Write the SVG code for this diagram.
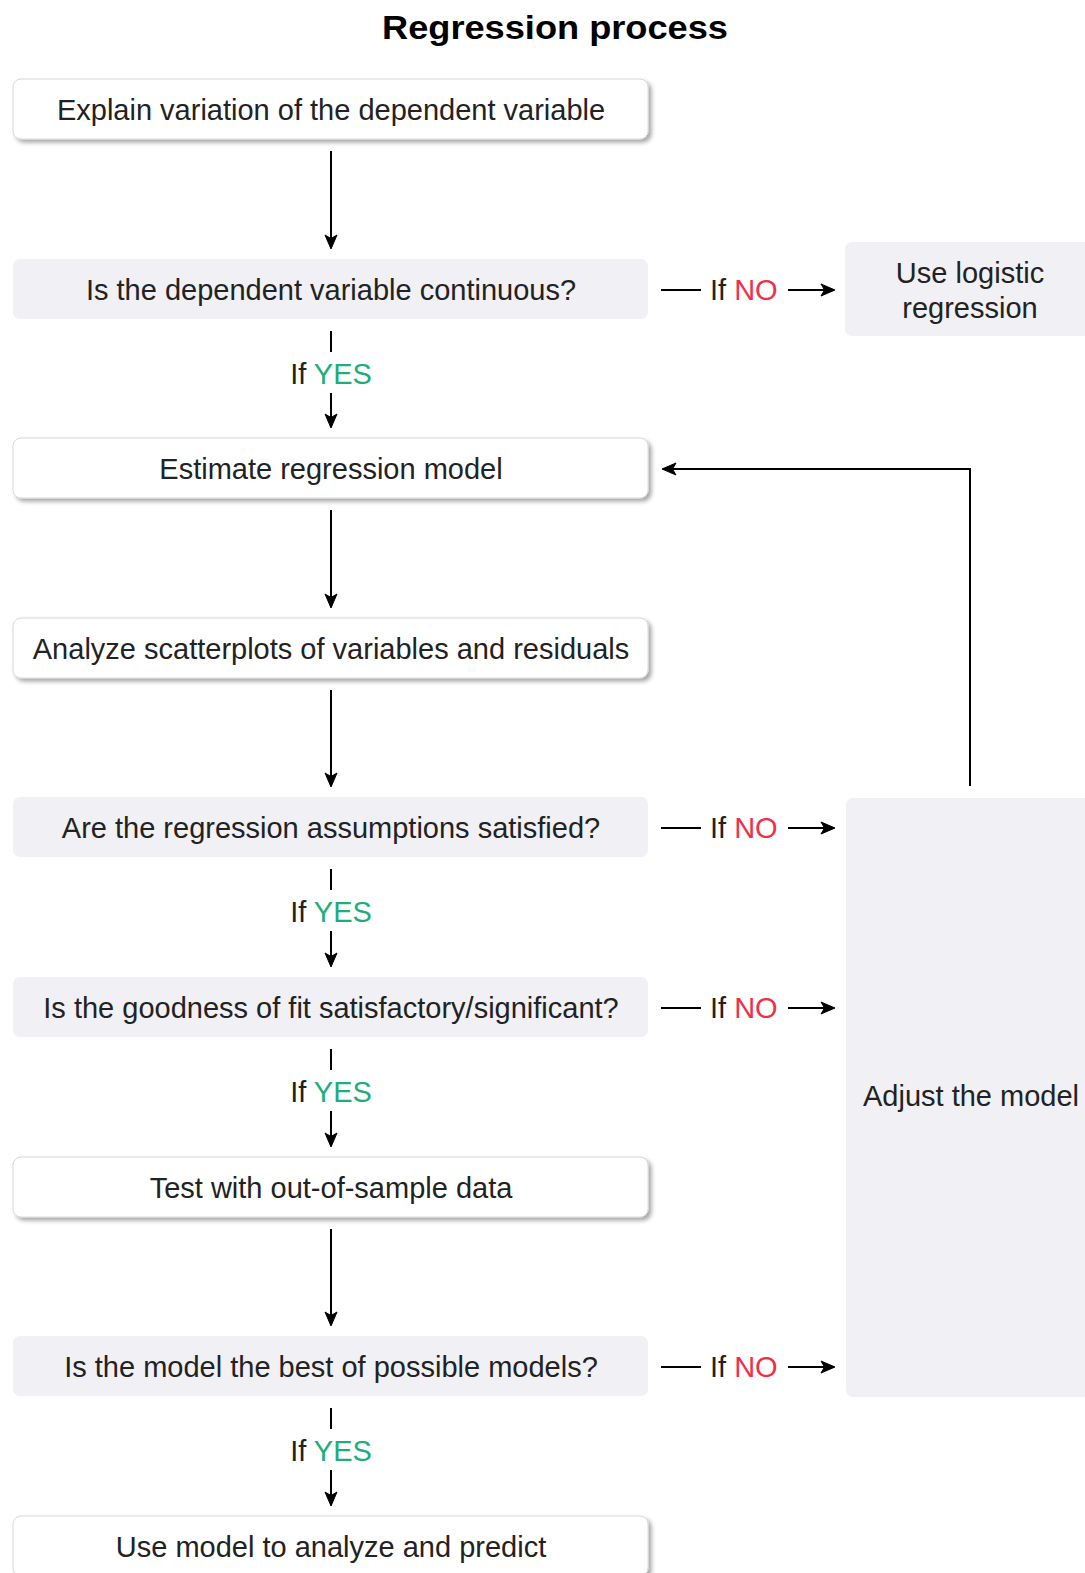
<svg xmlns="http://www.w3.org/2000/svg" width="1085" height="1573" viewBox="0 0 1085 1573">
<defs>
<filter id="sh" x="-5%" y="-30%" width="115%" height="180%">
<feDropShadow dx="3" dy="3" stdDeviation="2.2" flood-color="#000" flood-opacity="0.35"/>
</filter>
<marker id="ah" viewBox="0 0 14 12" refX="13" refY="6" markerWidth="14" markerHeight="12" markerUnits="userSpaceOnUse" orient="auto" overflow="visible">
<path d="M0,0 L14,6 L0,12 L3.5,6 z" fill="#000" stroke="#000" stroke-width="1" stroke-linejoin="miter"/>
</marker>
<style>
text{font-family:"Liberation Sans",Arial,sans-serif;font-size:29px;fill:#222;text-anchor:middle}
.title{font-weight:bold;font-size:34px;fill:#000}
.w{fill:#fff;stroke:#d8d8d8;stroke-width:1;filter:url(#sh)}
.g{fill:#f0f0f5}
.c{stroke:#000;stroke-width:2;fill:none}
.a{stroke:#000;stroke-width:2;fill:none;marker-end:url(#ah)}
.yes{fill:#21ad7a}
.no{fill:#f0304a}
.lbl{text-anchor:start}
</style>
</defs>
<rect width="1085" height="1573" fill="#fff"/>
<text class="title" x="555" y="39" textLength="346" lengthAdjust="spacingAndGlyphs">Regression process</text>

<g id="n1"><rect class="w" x="13" y="79" width="635" height="60" rx="8"/><text x="331" y="120">Explain variation of the dependent variable</text></g>
<g id="n2"><rect class="g" x="13" y="259" width="635" height="60" rx="7"/><text x="331" y="300">Is the dependent variable continuous?</text></g>
<g id="n3"><rect class="w" x="13" y="438" width="635" height="60" rx="8"/><text x="331" y="479">Estimate regression model</text></g>
<g id="n4"><rect class="w" x="13" y="618" width="635" height="60" rx="8"/><text x="331" y="659">Analyze scatterplots of variables and residuals</text></g>
<g id="n5"><rect class="g" x="13" y="797" width="635" height="60" rx="7"/><text x="331" y="838">Are the regression assumptions satisfied?</text></g>
<g id="n6"><rect class="g" x="13" y="977" width="635" height="60" rx="7"/><text x="331" y="1018">Is the goodness of fit satisfactory/significant?</text></g>
<g id="n7"><rect class="w" x="13" y="1157" width="635" height="60" rx="8"/><text x="331" y="1198">Test with out-of-sample data</text></g>
<g id="n8"><rect class="g" x="13" y="1336" width="635" height="60" rx="7"/><text x="331" y="1377">Is the model the best of possible models?</text></g>
<g id="n9"><rect class="w" x="13" y="1516" width="635" height="60" rx="8"/><text x="331" y="1557">Use model to analyze and predict</text></g>
<g id="n10"><rect class="g" x="845" y="242" width="260" height="94" rx="7"/><text x="970" y="283">Use logistic</text><text x="970" y="318">regression</text></g>
<g id="n11"><rect class="g" x="846" y="798" width="260" height="599" rx="7"/><text x="971" y="1106">Adjust the model</text></g>

<g id="connectors">
<line class="a" x1="331" y1="151" x2="331" y2="248"/>
<line class="a" x1="331" y1="510" x2="331" y2="607"/>
<line class="a" x1="331" y1="690" x2="331" y2="786"/>
<line class="a" x1="331" y1="1229" x2="331" y2="1325"/>

<line class="c" x1="331" y1="331" x2="331" y2="352"/>
<text x="331" y="384">If <tspan class="yes">YES</tspan></text>
<line class="a" x1="331" y1="393" x2="331" y2="427"/>

<line class="c" x1="331" y1="869" x2="331" y2="890"/>
<text x="331" y="922">If <tspan class="yes">YES</tspan></text>
<line class="a" x1="331" y1="931" x2="331" y2="966"/>

<line class="c" x1="331" y1="1049" x2="331" y2="1070"/>
<text x="331" y="1102">If <tspan class="yes">YES</tspan></text>
<line class="a" x1="331" y1="1111" x2="331" y2="1146"/>

<line class="c" x1="331" y1="1408" x2="331" y2="1429"/>
<text x="331" y="1461">If <tspan class="yes">YES</tspan></text>
<line class="a" x1="331" y1="1470" x2="331" y2="1505"/>

<line class="c" x1="661" y1="290" x2="701" y2="290"/>
<text class="lbl" x="710" y="300">If <tspan class="no">NO</tspan></text>
<line class="a" x1="788" y1="290" x2="834" y2="290"/>

<line class="c" x1="661" y1="828" x2="701" y2="828"/>
<text class="lbl" x="710" y="838">If <tspan class="no">NO</tspan></text>
<line class="a" x1="788" y1="828" x2="834" y2="828"/>

<line class="c" x1="661" y1="1008" x2="701" y2="1008"/>
<text class="lbl" x="710" y="1018">If <tspan class="no">NO</tspan></text>
<line class="a" x1="788" y1="1008" x2="834" y2="1008"/>

<line class="c" x1="661" y1="1367" x2="701" y2="1367"/>
<text class="lbl" x="710" y="1377">If <tspan class="no">NO</tspan></text>
<line class="a" x1="788" y1="1367" x2="834" y2="1367"/>

<path class="a" d="M970,786 V469 H663"/>
</g>
</svg>
